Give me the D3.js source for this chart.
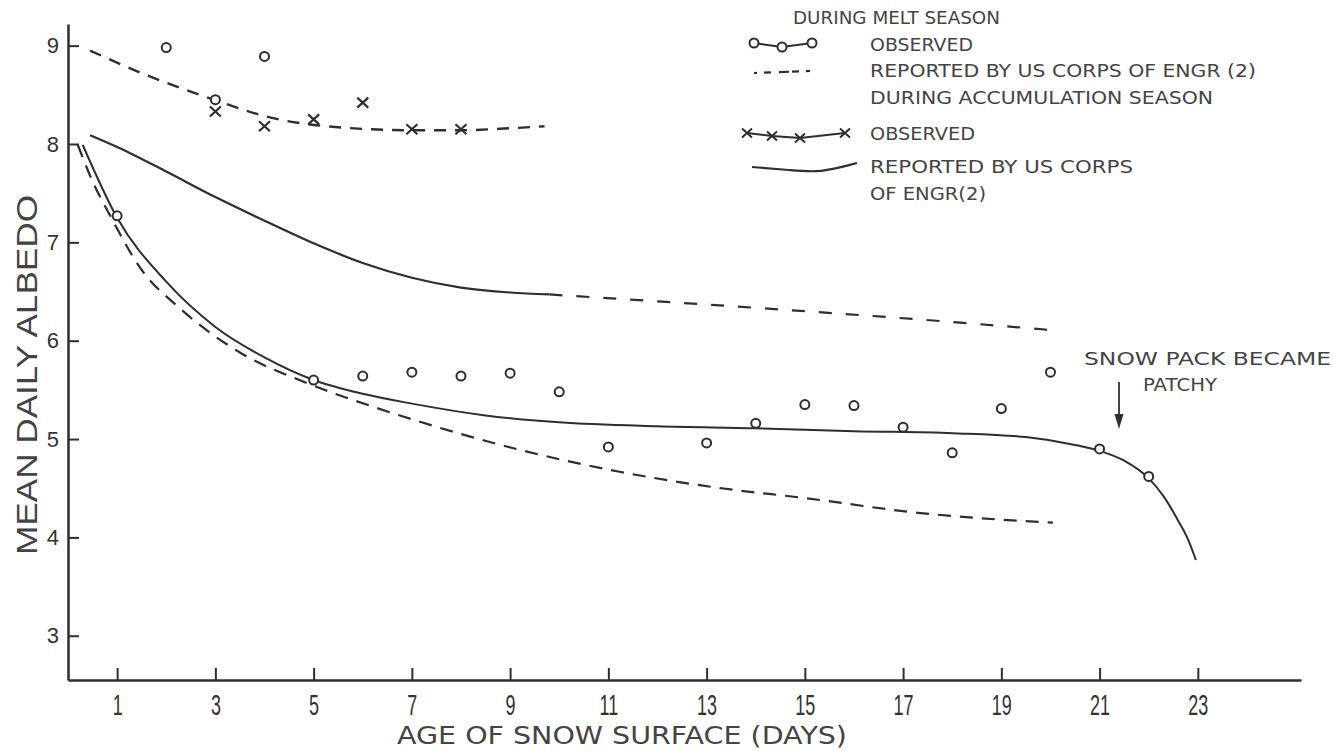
<!DOCTYPE html>
<html>
<head>
<meta charset="utf-8">
<script src="https://cdn.jsdelivr.net/npm/d3@7"></script>
<style>
  body { margin: 0; background: #fff; }
  svg { display: block; }
</style>
</head>
<body>
<div id="chart"></div>
<script>
const xTicks = [1, 3, 5, 7, 9, 11, 13, 15, 17, 19, 21, 23];
const yTicks = [3, 4, 5, 6, 7, 8, 9];

// circles: observed during melt season
const meltObserved = [
  [1, 7.27], [2, 8.98], [3, 8.45], [4, 8.89], [5, 5.6], [6, 5.64], [7, 5.68],
  [8, 5.64], [9, 5.67], [10, 5.48], [11, 4.92], [13, 4.96], [14, 5.16],
  [15, 5.35], [16, 5.34], [17, 5.12], [18, 4.86], [19, 5.31], [20, 5.68],
  [21, 4.9], [22, 4.62]
];

// crosses: observed during accumulation season
const accumObserved = [
  [3, 8.33], [4, 8.18], [5, 8.25], [6, 8.42], [7, 8.15], [8, 8.15]
];

// dashed curve near the top
const topDashed = [
  [0.45, 8.95], [1.5, 8.72], [2.8, 8.48], [4.2, 8.26], [5.5, 8.17],
  [7, 8.14], [8, 8.14], [9, 8.16], [9.7, 8.18]
];

// upper solid curve and its dashed continuation
const upperSolid = [
  [0.45, 8.09], [1, 7.97], [2, 7.72], [3, 7.46], [4, 7.22], [5, 6.99],
  [6, 6.79], [7, 6.64], [8, 6.54], [9, 6.49], [9.8, 6.47]
];
const upperDashed = [
  [9.8, 6.47], [12, 6.4], [15, 6.3], [18, 6.19], [20.2, 6.1]
];

// lower pair of curves
const lowerSolid = [
  [0.3, 7.99], [1, 7.25], [2, 6.6], [3, 6.14], [4, 5.83], [5, 5.6],
  [6, 5.46], [7, 5.36], [8.5, 5.24], [10, 5.17], [12, 5.13], [14, 5.11],
  [16, 5.08], [18, 5.06], [19.5, 5.02], [20.5, 4.94], [21, 4.88],
  [21.5, 4.78], [22, 4.6], [22.3, 4.42], [22.6, 4.17], [22.8, 3.98], [22.96, 3.77]
];
const lowerDashed = [
  [0.2, 7.99], [0.5, 7.62], [0.86, 7.27], [1.47, 6.74], [2.3, 6.32],
  [3.5, 5.88], [4.86, 5.57], [6.2, 5.33], [7.2, 5.17], [9.2, 4.89],
  [11.2, 4.67], [13.3, 4.5], [15, 4.4], [17.3, 4.25], [19, 4.18], [20.05, 4.15]
];

const W = 1333, H = 751;
const INK = "#2e2e2e";
const TEXT = "#444";
const FONT = "'DejaVu Sans', sans-serif";

const svg = d3.select("#chart").append("svg")
  .attr("width", W).attr("height", H)
  .style("background", "#fff");

const x = d3.scaleLinear().domain([0, 25.1]).range([68, 1301]);
const y = d3.scaleLinear().domain([2.55, 9.22]).range([680, 24]);

// axes
const xAxis = svg.append("g")
  .attr("transform", `translate(0,${y(2.55)})`)
  .call(d3.axisBottom(x).tickValues(xTicks).tickSize(-12).tickSizeOuter(0).tickPadding(14));
xAxis.select(".domain").attr("stroke", INK).attr("stroke-width", 2.5);
xAxis.selectAll(".tick line").attr("stroke", INK).attr("stroke-width", 2);
xAxis.selectAll(".tick text")
  .attr("fill", "#333").attr("font-family", "'Liberation Sans', sans-serif").attr("font-size", 29)
  .attr("transform", "scale(0.62,1)");

const yAxis = svg.append("g")
  .attr("transform", `translate(${x(0)},0)`)
  .call(d3.axisLeft(y).tickValues(yTicks).tickFormat(d3.format("d"))
    .tickSize(-11).tickSizeOuter(0).tickPadding(9));
yAxis.select(".domain").attr("stroke", INK).attr("stroke-width", 2.5);
yAxis.selectAll(".tick text")
  .attr("fill", "#333").attr("font-family", "'Liberation Sans', sans-serif").attr("font-size", 22);
yAxis.selectAll(".tick line").attr("stroke", INK).attr("stroke-width", 2);

// axis titles
svg.append("text")
  .attr("x", 622).attr("y", 744)
  .attr("text-anchor", "middle")
  .attr("font-family", FONT).attr("font-size", 25).attr("fill", TEXT)
  .attr("textLength", 450).attr("lengthAdjust", "spacingAndGlyphs")
  .text("AGE OF SNOW SURFACE (DAYS)");

svg.append("text")
  .attr("transform", "translate(37,375) rotate(-90)")
  .attr("text-anchor", "middle")
  .attr("font-family", "'Liberation Sans', sans-serif").attr("font-size", 30).attr("fill", TEXT)
  .attr("textLength", 360).attr("lengthAdjust", "spacingAndGlyphs")
  .text("MEAN DAILY ALBEDO");

// curves
const line = d3.line()
  .x((d) => x(d[0]))
  .y((d) => y(d[1]))
  .curve(d3.curveMonotoneX);

const curves = svg.append("g").attr("fill", "none").attr("stroke", INK)
  .attr("stroke-linecap", "butt");

curves.append("path").datum(topDashed).attr("d", line)
  .attr("stroke-width", 2.4).attr("stroke-dasharray", "12,9");
curves.append("path").datum(upperSolid).attr("d", line)
  .attr("stroke-width", 2.2);
curves.append("path").datum(upperDashed).attr("d", line)
  .attr("stroke-width", 2.2).attr("stroke-dasharray", "13,14");
curves.append("path").datum(lowerSolid).attr("d", line)
  .attr("stroke-width", 2);
curves.append("path").datum(lowerDashed).attr("d", line)
  .attr("stroke-width", 2.2).attr("stroke-dasharray", "13,9");

// observation marks
svg.append("g").selectAll("circle")
  .data(meltObserved)
  .join("circle")
  .attr("cx", (d) => x(d[0]))
  .attr("cy", (d) => y(d[1]))
  .attr("r", 4.5)
  .attr("fill", "#fff")
  .attr("stroke", INK)
  .attr("stroke-width", 2);

const crossPath = "M-5.5,-5L5.5,5M-5.5,5L5.5,-5";
svg.append("g").selectAll("path")
  .data(accumObserved)
  .join("path")
  .attr("transform", (d) => `translate(${x(d[0])},${y(d[1])})`)
  .attr("d", crossPath)
  .attr("fill", "none")
  .attr("stroke", INK)
  .attr("stroke-width", 2.2);

// legend
const legend = svg.append("g")
  .attr("font-family", FONT).attr("font-size", 17).attr("fill", TEXT);

const legendText = [
  { text: "DURING MELT SEASON", x: 793, y: 24, len: 207 },
  { text: "OBSERVED", x: 870, y: 51, len: 103 },
  { text: "REPORTED BY US CORPS OF ENGR (2)", x: 870, y: 77, len: 386 },
  { text: "DURING ACCUMULATION SEASON", x: 870, y: 104, len: 343 },
  { text: "OBSERVED", x: 870, y: 140, len: 105 },
  { text: "REPORTED BY US CORPS", x: 870, y: 173, len: 263 },
  { text: "OF ENGR(2)", x: 870, y: 200, len: 116 },
];
legend.selectAll("text")
  .data(legendText)
  .join("text")
  .attr("x", (d) => d.x)
  .attr("y", (d) => d.y)
  .attr("textLength", (d) => d.len)
  .attr("lengthAdjust", "spacingAndGlyphs")
  .text((d) => d.text);

const legendMarks = svg.append("g").attr("stroke", INK).attr("fill", "none");

const keyCircles = [[754, 43], [782, 47], [812, 43]];
legendMarks.append("path")
  .attr("d", d3.line()(keyCircles))
  .attr("stroke-width", 2);
legendMarks.selectAll("circle")
  .data(keyCircles)
  .join("circle")
  .attr("cx", (d) => d[0]).attr("cy", (d) => d[1]).attr("r", 4.5)
  .attr("fill", "#fff").attr("stroke-width", 2);

legendMarks.append("line")
  .attr("x1", 754).attr("y1", 73).attr("x2", 810).attr("y2", 71)
  .attr("stroke-width", 2.2).attr("stroke-dasharray", "3,7,7,8,10");

const keyCrosses = [[747, 133], [772, 136], [800, 138], [845, 133]];
legendMarks.append("path")
  .attr("d", d3.line()(keyCrosses))
  .attr("stroke-width", 2);
legendMarks.selectAll("path.cross")
  .data(keyCrosses)
  .join("path")
  .attr("class", "cross")
  .attr("transform", (d) => `translate(${d[0]},${d[1]})`)
  .attr("d", "M-5,-4.5L5,4.5M-5,4.5L5,-4.5")
  .attr("stroke-width", 2);

legendMarks.append("path")
  .attr("d", d3.line().curve(d3.curveBasis)([[752, 167], [790, 170], [820, 173], [857, 163]]))
  .attr("stroke-width", 2.2);

// annotation
const note = svg.append("g")
  .attr("font-family", FONT).attr("font-size", 17).attr("fill", TEXT);
note.append("text").attr("x", 1084).attr("y", 365)
  .attr("textLength", 247).attr("lengthAdjust", "spacingAndGlyphs")
  .text("SNOW PACK BECAME");
note.append("text").attr("x", 1143).attr("y", 391)
  .attr("textLength", 74).attr("lengthAdjust", "spacingAndGlyphs")
  .text("PATCHY");

svg.append("line")
  .attr("x1", 1119).attr("y1", 382).attr("x2", 1119).attr("y2", 420)
  .attr("stroke", INK).attr("stroke-width", 1.8);
svg.append("path")
  .attr("d", "M1114.5,414L1119,429L1123.5,414Z")
  .attr("fill", INK);
</script>
</body>
</html>
